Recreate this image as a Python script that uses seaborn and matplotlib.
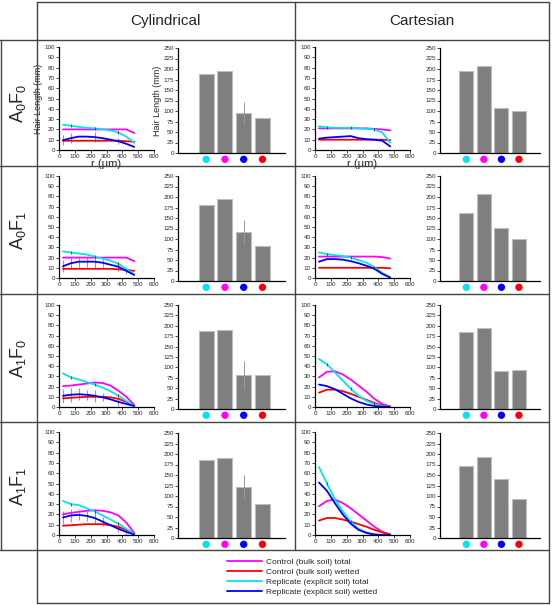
import matplotlib
matplotlib.use("Agg")
import matplotlib.pyplot as plt
import seaborn as sns
import numpy as np
import pandas as pd
from matplotlib.lines import Line2D

sns.set_theme(style="ticks")
plt.rcParams['font.family'] = ['Liberation Sans', 'DejaVu Sans']

W, H = 553, 605

# ---- data ----
r = [25, 75, 125, 175, 225, 275, 325, 375, 425, 475]
series_names = ['Control (bulk soil) total', 'Control (bulk soil) wetted',
                'Replicate (explicit soil) total', 'Replicate (explicit soil) wetted']
series_colors = ['#ff00ff', '#ff0000', '#00e5ee', '#0000ff']
row_labels = ['A_0F_0', 'A_0F_1', 'A_1F_0', 'A_1F_1']
col_labels = ['Cylindrical', 'Cartesian']

# line values per panel: magenta, red, cyan, blue
cyl_A0F0 = [[20, 20, 20, 20, 20, 20, 20, 20, 20, 16.5],
            [9, 9, 9, 9, 9, 9, 9, 9, 8.5, 8],
            [24.5, 23.5, 22.5, 21.5, 21, 20, 19, 17, 13, 7],
            [9.5, 11.5, 13, 13, 12.5, 11.5, 10, 8.5, 6, 3]]
cart_A0F0 = [[21, 21, 21, 21, 21, 21, 21, 20.5, 20, 19],
             [10, 10, 10, 10, 10, 10, 10, 10, 10, 9.5],
             [23, 22, 21.5, 21.5, 21.5, 21, 20.5, 20, 17, 7],
             [11, 12, 12.5, 13, 13.5, 11.5, 10.5, 10, 9, 3.5]]
cyl_A0F1 = [[20, 20, 20, 20, 20, 20, 20, 20, 20, 16.5],
            [9, 9, 9, 9, 9, 9, 9, 8.5, 8, 7],
            [26, 25, 24, 23, 21, 19, 17, 14, 9, 3.5],
            [11.5, 14.5, 16, 16, 16, 15, 13, 11, 7, 3]]
cart_A0F1 = [[21, 21, 21, 21, 21, 21, 21, 21, 20.5, 19],
             [10, 10, 10, 10, 10, 10, 10, 10, 10, 9.5],
             [25, 23.5, 22.5, 21.5, 20, 17.5, 15, 10.5, 5, 0.5],
             [16, 18.5, 18.5, 18, 16.5, 14.5, 12, 9, 4, 0.5]]
cyl_A1F0 = [[20.5, 21, 22, 23, 24, 23.5, 21, 16, 10, 2],
            [8.5, 9, 9.5, 10, 10, 10, 9.5, 8, 5, 1],
            [33, 29, 27, 24.5, 22, 19, 15.5, 11, 6, 1],
            [11, 12, 12.5, 12, 11, 9.5, 7.5, 5, 3, 1]]
cart_A1F0 = [[29, 34.5, 35, 32, 27, 21, 15, 8, 3, 0.5],
             [14, 17, 17, 15.5, 13, 10, 7, 4, 1.5, 0.3],
             [47, 42, 34, 26, 18, 11, 6, 3, 1, 0],
             [22, 20.5, 17.5, 13, 8.5, 5, 2.5, 1, 0.3, 0]]
cyl_A1F1 = [[20, 21.5, 22.5, 23.5, 24, 23.5, 22, 19, 12, 2],
            [9, 9.5, 10, 10.5, 10.5, 10.5, 9.5, 8, 5, 1],
            [33, 30, 29, 26, 23, 19, 15, 11, 6, 1],
            [17, 19, 19.5, 18.5, 16.5, 13, 9.5, 6, 3, 0.5]]
cart_A1F1 = [[28, 33, 34.5, 31, 26, 20, 14, 8, 3, 0.5],
             [14, 16.5, 16.5, 15, 13, 10.5, 8, 5, 2.5, 0.5],
             [66, 50, 35, 23, 13, 6, 2.5, 0.5, 0, 0],
             [51, 43, 31, 20, 11, 5, 2, 0.5, 0, 0]]

# error half-widths on the wetted replicate (grey) per cylindrical row
cyl_err = [[5, 5, 0, 0, 5, 0, 0, 3, 0, 0],
           [6, 6, 5, 5, 6, 4, 0, 4, 3, 0],
           [7, 7, 6, 5, 6, 4, 0, 4, 0, 0],
           [6, 6, 5, 5, 6, 4, 0, 3, 3, 0]]

bar_cyl = [[188, 196, 95, 83], [180, 196, 117, 84], [188, 190, 82, 82], [186, 191, 122, 81]]
bar_cyl_err = [[0, 0, 27, 0], [0, 0, 28, 0], [0, 0, 33, 0], [0, 0, 28, 0]]
bar_cart = [[196, 207, 106, 100], [162, 207, 127, 100], [185, 194, 92, 94], [171, 194, 140, 94]]
dot_colors = ['#00e5ee', '#ff00ff', '#0000ff', '#ff0000']

line_panels = [[cyl_A0F0, cart_A0F0], [cyl_A0F1, cart_A0F1],
               [cyl_A1F0, cart_A1F0], [cyl_A1F1, cart_A1F1]]
bar_panels = [bar_cyl, bar_cart]

fig = plt.figure(figsize=(W / 100, H / 100), dpi=100, facecolor='white')


def rect(l, t, rr, b):
    return [l / W, 1 - b / H, (rr - l) / W, (b - t) / H]


def fline(x0, y0, x1, y1):
    fig.add_artist(Line2D([x0 / W, x1 / W], [1 - y0 / H, 1 - y1 / H],
                          color='#444444', lw=1.0, transform=fig.transFigure))


# table grid
fline(37, 2, 549, 2)
fline(0, 40, 549, 40)
for yy in [166, 294, 422, 550]:
    fline(0, yy, 549, yy)
fline(37, 603, 549, 603)
fline(37, 2, 37, 603)
fline(1, 40, 1, 550)
fline(549, 2, 549, 603)
fline(295, 2, 295, 550)

fig.text(165 / W, 1 - 21 / H, col_labels[0], ha='center', va='center', fontsize=11)
fig.text(422 / W, 1 - 21 / H, col_labels[1], ha='center', va='center', fontsize=11)

row_c = [103, 230, 358, 486]
for i, lab in enumerate(row_labels):
    fig.text(18 / W, 1 - row_c[i] / H, r'$\mathregular{' + lab + '}$', rotation=90,
             ha='center', va='center', fontsize=13)

line_top = [47, 176, 305, 432]
line_bot = [150, 278, 407, 535]
bar_top = [48, 176, 305, 433]
bar_bot = [153, 281, 409, 538]
line_x = [(59, 154), (315, 410)]
bar_x = [(178, 285), (440, 540)]


def style(ax):
    sns.despine(ax=ax)
    for s in ['left', 'bottom']:
        ax.spines[s].set_linewidth(0.9)
        ax.spines[s].set_color('black')
    ax.tick_params(labelsize=4.5, length=2, width=0.6, pad=1)
    ax.set_facecolor('white')


for i in range(4):
    for j in range(2):
        # line panel
        ax = fig.add_axes(rect(line_x[j][0], line_top[i], line_x[j][1], line_bot[i]))
        vals = line_panels[i][j]
        if j == 0:
            ax.errorbar(r, vals[3], yerr=cyl_err[i], fmt='none', ecolor='#999999',
                        elinewidth=0.8, capsize=0)
        for k in range(4):
            sns.lineplot(x=r, y=vals[k], color=series_colors[k], lw=1.3, ax=ax, legend=False)
        ax.errorbar(r[1::3], vals[2][1::3], yerr=1.5, fmt='none', ecolor='#333333',
                    elinewidth=0.6, capsize=0)
        ax.set_xlim(0, 600)
        ax.set_ylim(0, 100)
        ax.set_xticks(range(0, 601, 100))
        ax.set_yticks(range(0, 101, 10))
        style(ax)
        if i == 0:
            ax.set_xlabel('r (μm)', fontsize=8, labelpad=0)
        if i == 0 and j == 0:
            ax.set_ylabel('Hair Length (mm)', fontsize=6.5, labelpad=1)

        # bar panel
        bx = fig.add_axes(rect(bar_x[j][0], bar_top[i], bar_x[j][1], bar_bot[i]))
        bvals = bar_panels[j][i]
        df = pd.DataFrame({'pos': [0, 1, 2, 3], 'val': bvals})
        sns.barplot(data=df, x='pos', y='val', color='#7f7f7f', saturation=1,
                    width=0.8, edgecolor='#bdbdbd', linewidth=0.8, ax=bx, native_scale=True)
        if j == 0:
            bx.errorbar([0, 1, 2, 3], bvals, yerr=bar_cyl_err[i], fmt='none',
                        ecolor='#9a9a9a', elinewidth=0.7, capsize=0)
        bx.scatter([0, 1, 2, 3], [-15] * 4, s=28, c=dot_colors, clip_on=False, zorder=5,
                   linewidths=0)
        bx.set_xlim(-1.5, 4.2)
        bx.set_ylim(0, 250)
        bx.set_yticks(range(0, 251, 25))
        bx.set_xticks([])
        bx.set_xlabel('')
        bx.set_ylabel('')
        style(bx)
        if i == 0 and j == 0:
            bx.set_ylabel('Hair Length (mm)', fontsize=6.5, labelpad=1)

leg_handles = [Line2D([], [], color=series_colors[k], lw=1.3) for k in range(4)]
fig.legend(leg_handles, series_names, loc='center', bbox_to_anchor=(302 / W, 1 - 577 / H),
           frameon=False, fontsize=6, handlelength=4.2, labelspacing=0.25, handletextpad=0.5)

fig.savefig('out.png', dpi=100, facecolor='white')
